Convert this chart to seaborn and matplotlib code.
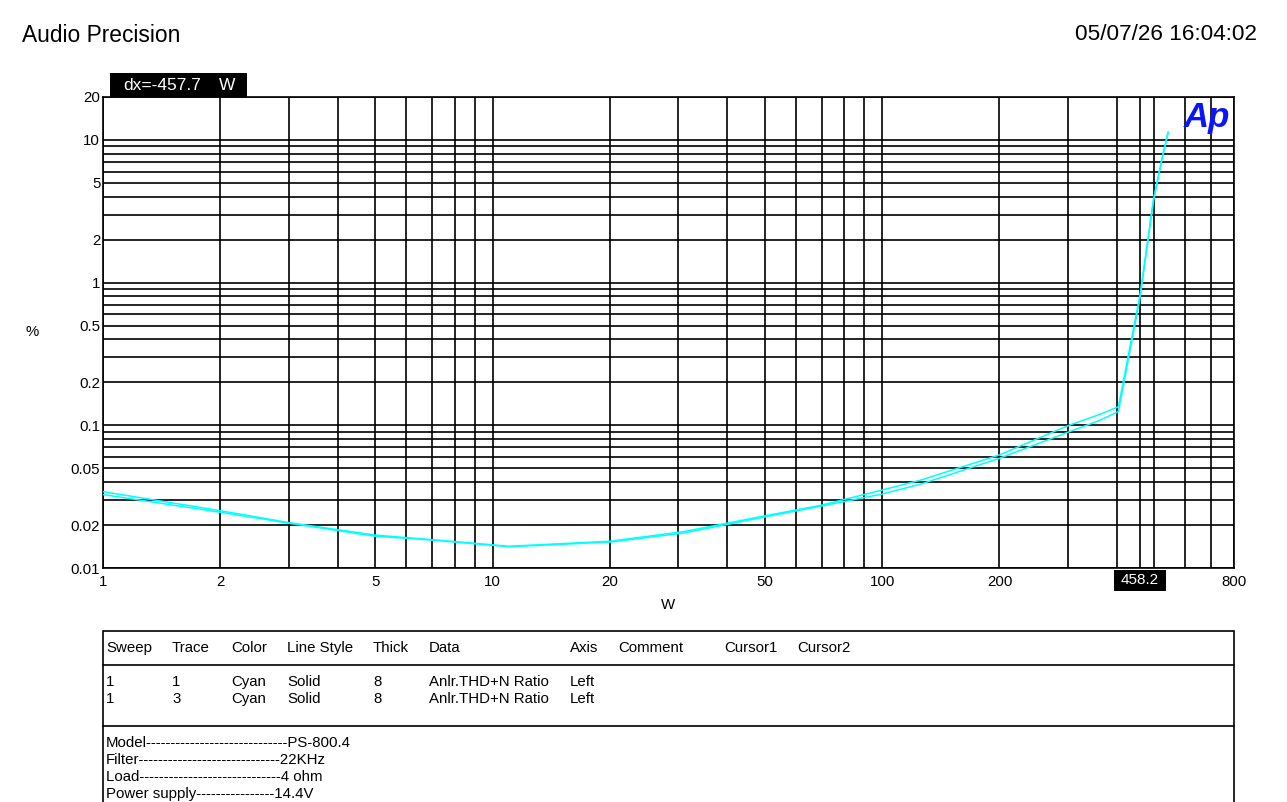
import matplotlib
matplotlib.use("Agg")
import matplotlib.pyplot as plt
import seaborn as sns
import numpy as np
import pandas as pd
from matplotlib.patches import Rectangle
from matplotlib.lines import Line2D
from matplotlib.ticker import FixedLocator, NullFormatter

# ---------------- data ----------------
power_w = [1, 2, 3, 5, 7, 11, 20, 31, 50, 70, 100, 126, 200, 300, 361, 404, 459, 497, 522, 542]
thd_trace1 = [0.0343, 0.0252, 0.0208, 0.0170, 0.0158, 0.0142, 0.0154, 0.0180, 0.0232, 0.0276,
              0.0352, 0.0414, 0.0620, 0.0995, 0.119, 0.135, 0.82, 3.8, 7.3, 11.4]
thd_trace3 = [0.0327, 0.0246, 0.0206, 0.0167, 0.0157, 0.0141, 0.0152, 0.0176, 0.0228, 0.0272,
              0.0330, 0.0388, 0.0587, 0.0895, 0.108, 0.125, 0.78, 3.75, 7.2, 11.3]

x_major = [1, 2, 5, 10, 20, 50, 100, 200, 800]
x_major_labels = ["1", "2", "5", "10", "20", "50", "100", "200", "800"]
x_minor = [3, 4, 6, 7, 8, 9, 30, 40, 60, 70, 80, 90, 300, 400, 500, 600, 700]
y_major = [0.01, 0.02, 0.05, 0.1, 0.2, 0.5, 1, 2, 5, 10, 20]
y_major_labels = ["0.01", "0.02", "0.05", "0.1", "0.2", "0.5", "1", "2", "5", "10", "20"]
y_minor = [0.03, 0.04, 0.06, 0.07, 0.08, 0.09, 0.3, 0.4, 0.6, 0.7, 0.8, 0.9,
           3, 4, 6, 7, 8, 9]
cursor_x = 458.2

table_header = ["Sweep", "Trace", "Color", "Line Style", "Thick", "Data", "Axis", "Comment", "Cursor1", "Cursor2"]
table_rows = [["1", "1", "Cyan", "Solid", "8", "Anlr.THD+N Ratio", "Left"],
              ["1", "3", "Cyan", "Solid", "8", "Anlr.THD+N Ratio", "Left"]]
notes = ["Model" + "-" * 29 + "PS-800.4",
         "Filter" + "-" * 29 + "22KHz",
         "Load" + "-" * 29 + "4 ohm",
         "Power supply" + "-" * 16 + "14.4V"]

# ---------------- figure ----------------
sns.set_theme(style="white")
plt.rcParams['font.family'] = ['Liberation Sans', 'DejaVu Sans']
plt.rcParams['text.color'] = 'black'
plt.rcParams['axes.labelcolor'] = 'black'
plt.rcParams['xtick.color'] = 'black'
plt.rcParams['ytick.color'] = 'black'

W, H = 1287, 802
fig = plt.figure(figsize=(W / 100, H / 100), dpi=100)
fig.patch.set_facecolor("white")

def fx(px):
    return px / W

def fy(py):
    return 1 - py / H

ax = fig.add_axes([fx(103), fy(568), (1234 - 103) / W, (568 - 97) / H])
ax.set_facecolor("white")

df = pd.concat([
    pd.DataFrame({"W": power_w, "pct": thd_trace1, "trace": "1"}),
    pd.DataFrame({"W": power_w, "pct": thd_trace3, "trace": "3"}),
])
sns.lineplot(data=df, x="W", y="pct", hue="trace", palette=["#00FFFF", "#00FFFF"],
             linewidth=1.1, ax=ax, legend=False, estimator=None, sort=False, zorder=5)

ax.set_xscale("log")
ax.set_yscale("log")
ax.set_xlim(1, 800)
ax.set_ylim(0.01, 20)

ax.xaxis.set_major_locator(FixedLocator(x_major))
ax.xaxis.set_minor_locator(FixedLocator(x_minor))
ax.set_xticklabels(x_major_labels)
ax.xaxis.set_minor_formatter(NullFormatter())
ax.yaxis.set_major_locator(FixedLocator(y_major))
ax.yaxis.set_minor_locator(FixedLocator(y_minor))
ax.set_yticklabels(y_major_labels)
ax.yaxis.set_minor_formatter(NullFormatter())

ax.tick_params(axis="both", which="both", length=0, labelsize=10.8, colors="black")
ax.tick_params(axis="x", pad=5)
ax.tick_params(axis="y", pad=2)
ax.grid(True, which="both", color="black", linewidth=1.2)
ax.axvline(cursor_x, color="black", linewidth=1.2)
for s in ax.spines.values():
    s.set_color("black")
    s.set_linewidth(1.2)

ax.set_xlabel("")
ax.set_ylabel("")
fig.text(fx(668), fy(605), "W", ha="center", va="center", fontsize=10.8)
fig.text(fx(32), fy(332), "%", ha="center", va="center", fontsize=10.8)

# headers
fig.text(fx(22), fy(35), "Audio Precision", ha="left", va="center", fontsize=16.4)
fig.text(fx(1257), fy(35), "05/07/26 16:04:02", ha="right", va="center", fontsize=16.2)

# dx box
fig.patches.append(Rectangle((fx(110), fy(97)), (247 - 110) / W, (97 - 73) / H,
                             transform=fig.transFigure, facecolor="black", edgecolor="none", zorder=5))
fig.text(fx(123), fy(85), "dx=-457.7", ha="left", va="center", color="white", fontsize=12.5, zorder=6)
fig.text(fx(219), fy(85), "W", ha="left", va="center", color="white", fontsize=12.5, zorder=6)

# cursor value box
fig.patches.append(Rectangle((fx(1114), fy(591)), (1166 - 1114) / W, (591 - 570) / H,
                             transform=fig.transFigure, facecolor="black", edgecolor="none", zorder=5))
fig.text(fx(1140), fy(580.5), "458.2", ha="center", va="center", color="white", fontsize=11, zorder=6)

# Ap logo
fig.text(fx(1207), fy(117), "Ap", ha="center", va="center", color="#0A14FF", fontsize=25,
         fontweight="bold", fontstyle="italic", zorder=6)

# table
fig.patches.append(Rectangle((fx(103), fy(803)), (1234 - 103) / W, (803 - 631) / H,
                             transform=fig.transFigure, facecolor="none", edgecolor="black",
                             linewidth=1.2, zorder=3))
for ly in (665, 726):
    fig.lines.append(Line2D([fx(103), fx(1234)], [fy(ly), fy(ly)], transform=fig.transFigure,
                            color="black", linewidth=1.2))
col_x = [106, 172, 231, 287, 373, 429, 570, 618, 724, 797]
for cx, txt in zip(col_x, table_header):
    fig.text(fx(cx), fy(648), txt, ha="left", va="center", fontsize=10.8)
for ri, row in enumerate(table_rows):
    for cx, txt in zip(col_x, row):
        fig.text(fx(cx), fy(682 + 17 * ri), txt, ha="left", va="center", fontsize=10.8)
for ni, line in enumerate(notes):
    fig.text(fx(106), fy(743 + 17 * ni), line, ha="left", va="center", fontsize=10.8)

fig.savefig("out.png", dpi=100, facecolor="white")
